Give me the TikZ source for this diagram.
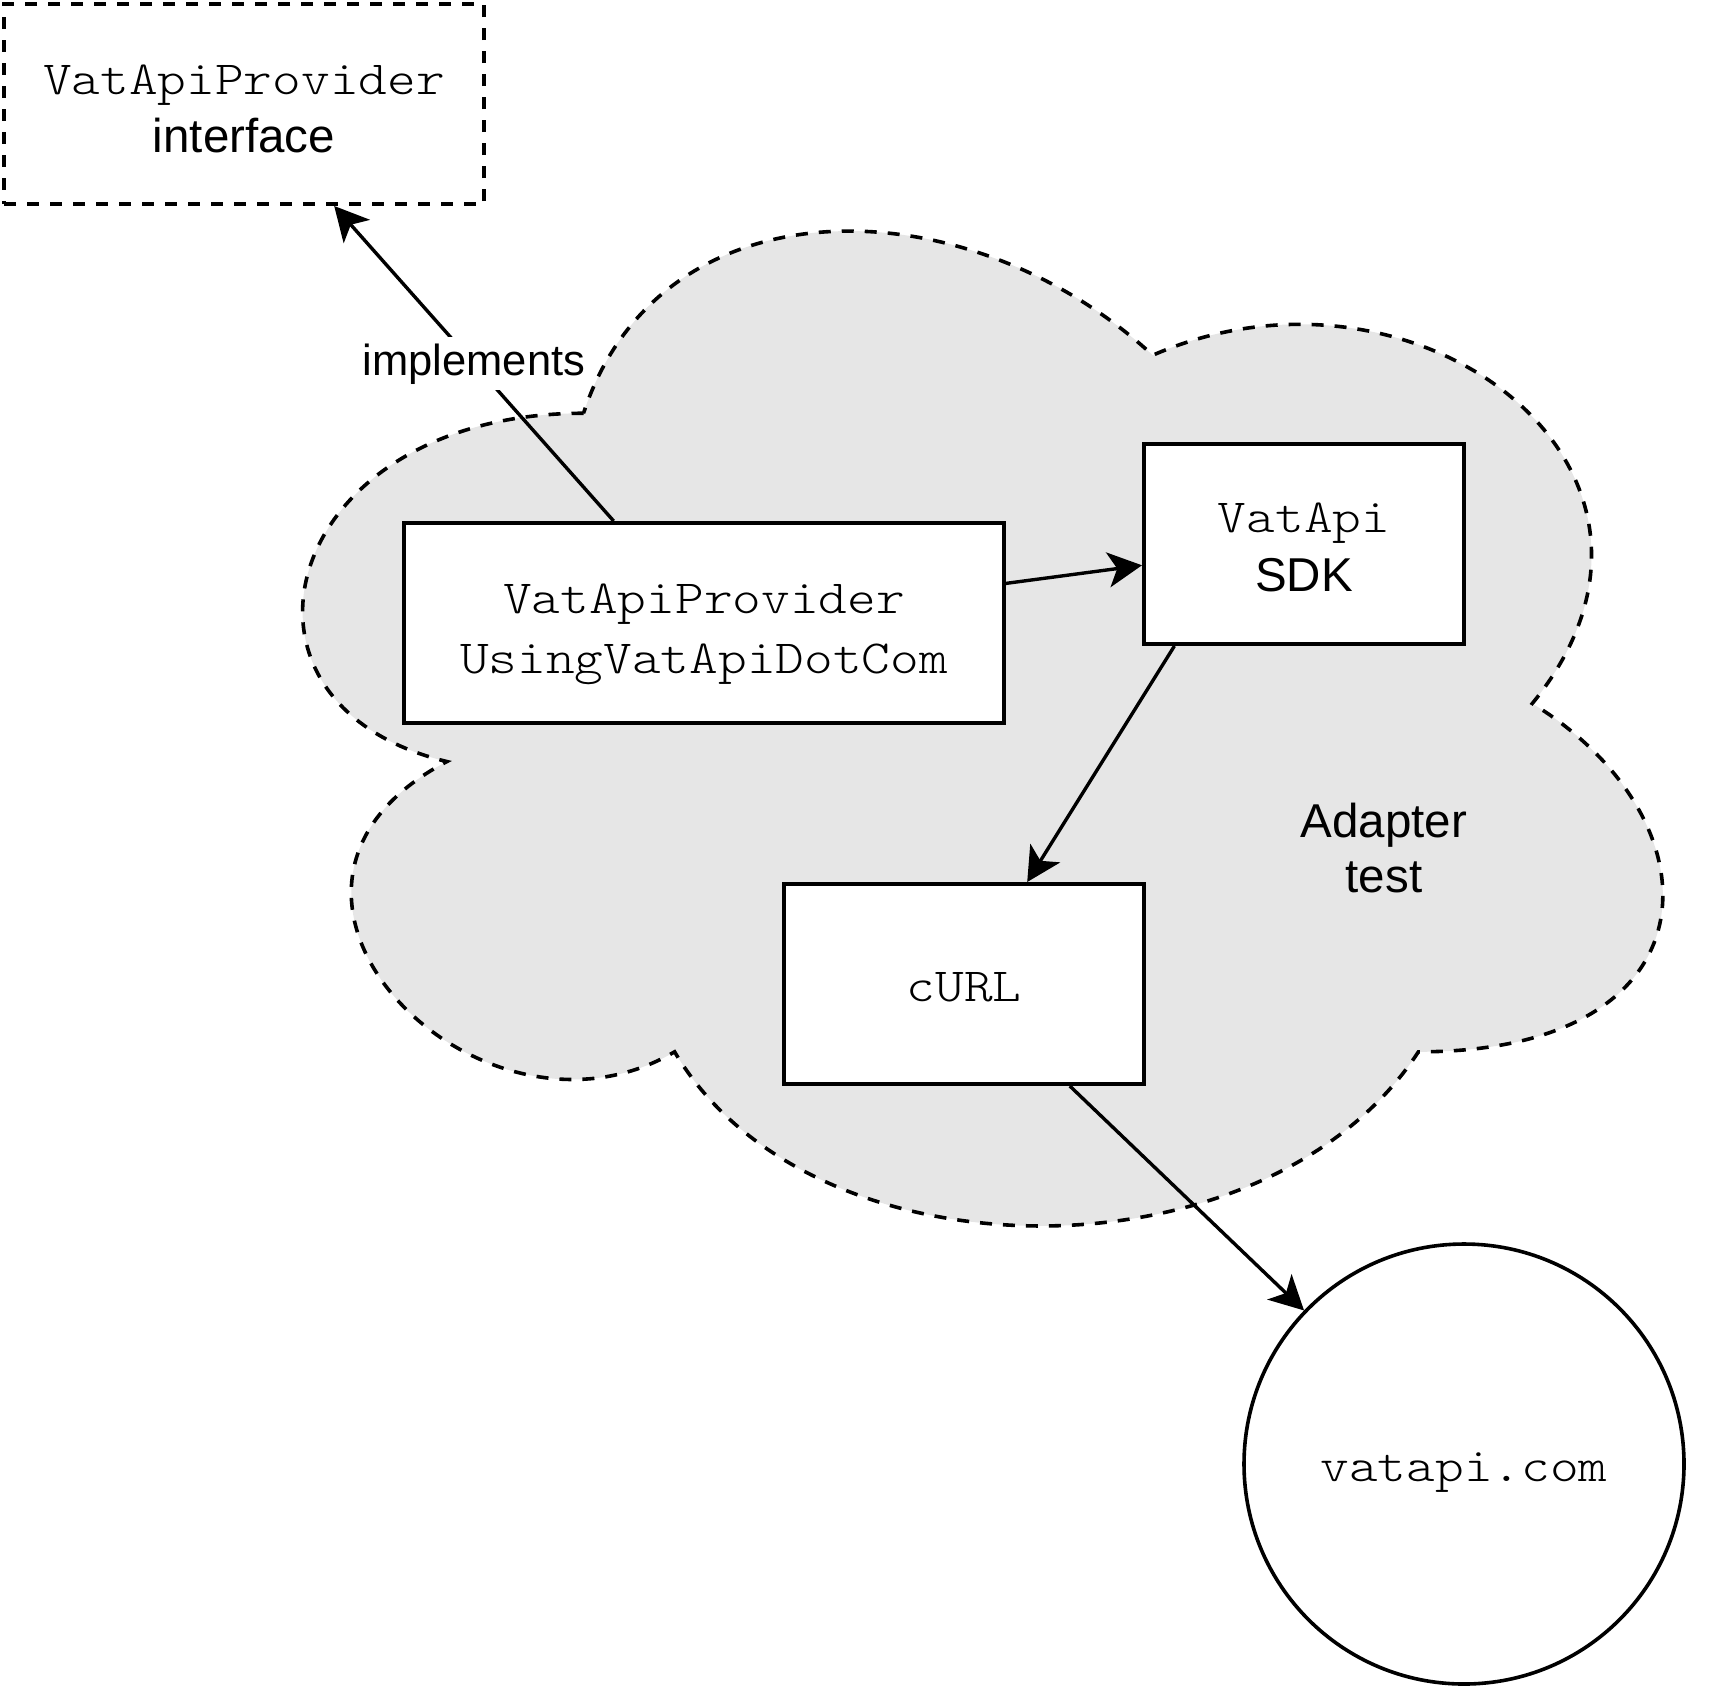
\documentclass[tikz,border=0pt]{standalone}
\usepackage{fontspec}
\setmainfont{Liberation Sans}
\newfontfamily\cour{lmmonolt10-regular.otf}[FakeStretch=1.15]
\usetikzlibrary{arrows.meta,calc}
\definecolor{cloudfill}{RGB}{230,230,230}
\newcommand{\hs}[1]{\rule{0pt}{#1pt}}
\newcommand{\ds}[1]{\rule[-#1pt]{0pt}{#1pt}}
\begin{document}
\begin{tikzpicture}[x=1pt,y=-1pt,
  box/.style={draw, line width=4pt, fill=white, rectangle, inner sep=0pt,
    minimum height=200pt, align=center},
  ifacebox/.style={box, dash pattern=on 12pt off 11pt},
  cloudstyle/.style={draw, fill=cloudfill, line width=3.6pt, dash pattern=on 12pt off 11pt},
  conn/.style={line width=3.4pt, -{Stealth[length=34pt,width=35pt,inset=9pt]}},
  lbl/.style={fill=white, inner xsep=3pt, inner ysep=0pt, text height=38.75pt,
    text depth=14.25pt, font={\fontsize{43.5pt}{52pt}\selectfont}},
  plain/.style={align=center, inner sep=0pt}
]
\useasboundingbox (0,0) rectangle (1728,1687);

% cloud (Adapter test boundary)
\draw[cloudstyle] (583.5,413.25)
  .. controls (279.9,413.25) and (204,703.5) .. (446.9,761.55)
  .. controls (204,889.26) and (477.2,1167.9) .. (674.6,1051.8)
  .. controls (811.2,1284) and (1266.6,1284) .. (1418.4,1051.8)
  .. controls (1722,1051.8) and (1722,819.6) .. (1532.25,703.5)
  .. controls (1722,471.3) and (1418.4,239.1) .. (1152.75,355.2)
  .. controls (963,181.05) and (659.4,181.05) .. (583.5,413.25) -- cycle;

\node[ifacebox, minimum width=480pt, font={\fontsize{47.5pt}{58pt}\selectfont}] (iface) at (244,104)
  {\hs{51}{\cour VatApiProvider}\\interface\ds{12}};

\node[box, minimum width=600pt, font={\fontsize{47.5pt}{59.5pt}\selectfont\cour}] (prov) at (704,623)
  {\hs{52.5}VatApiProvider\\UsingVatApiDotCom\ds{12}};

\node[box, minimum width=320pt, font={\fontsize{47.5pt}{59pt}\selectfont}] (sdk) at (1304,544)
  {\hs{48}{\cour VatApi}\\SDK\ds{12}};

\node[box, minimum width=360pt, font={\fontsize{47.5pt}{57pt}\selectfont\cour}] (curl) at (964,984)
  {\hs{47}cURL\ds{12}};

\node[draw, circle, line width=3.6pt, fill=white, inner sep=0pt, minimum size=440pt,
  font={\fontsize{47.5pt}{57pt}\selectfont\cour}] (web) at (1464,1464)
  {\hs{46}vatapi.com\ds{12}};

\node[plain, font={\fontsize{47.5pt}{55pt}\selectfont}] (adapt) at (1384,850.5)
  {\hs{40}Adapter\\test\ds{12}};

\draw[conn] (prov) -- node[lbl] {implements} (iface);
\draw[conn] (prov) -- (sdk);
\draw[conn] ($(sdk.south west)!0.1!(sdk.south east)$) -- (curl);
\draw[conn] (curl) -- (web);
\end{tikzpicture}
\end{document}
